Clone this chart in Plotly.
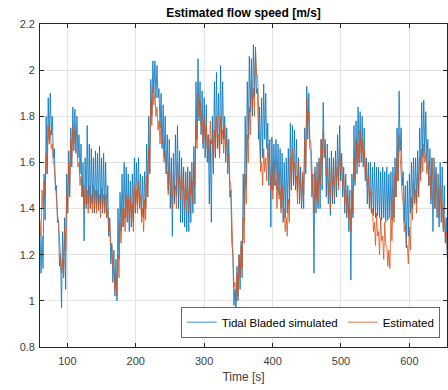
import plotly.graph_objects as go

# Values, one pair per 3 s slot starting at t = 60 s.
# Tidal Bladed simulated flow speed [m/s]: upper and lower edge of the noisy trace
sim_upper = [
    1.30, 1.28, 1.55, 1.80, 1.88, 1.90, 1.80, 1.66, 1.50, 1.35,
    1.20, 1.30, 1.36, 1.55, 1.65, 1.75, 1.84, 1.83, 1.80, 1.72,
    1.68, 1.60, 1.62, 1.76, 1.68, 1.66, 1.62, 1.65, 1.64, 1.67,
    1.62, 1.64, 1.60, 1.50, 1.36, 1.25, 1.22, 1.18, 1.40, 1.47,
    1.55, 1.60, 1.58, 1.55, 1.52, 1.55, 1.62, 1.60, 1.62, 1.55,
    1.54, 1.56, 1.68, 1.80, 1.96, 2.04, 2.04, 2.02, 1.92, 1.90,
    1.85, 1.80, 1.72, 1.70, 1.62, 1.64, 1.72, 1.76, 1.65, 1.62,
    1.58, 1.56, 1.58, 1.56, 1.60, 1.67, 1.95, 2.05, 1.95, 1.91,
    1.88, 1.85, 1.72, 1.70, 1.80, 1.95, 1.99, 1.90, 2.02, 1.95,
    1.80, 1.75, 1.70, 1.48, 1.20, 1.05, 1.15, 1.20, 1.26, 1.55,
    1.80, 1.95, 2.06, 2.05, 2.11, 2.10, 1.92, 1.84, 1.88, 1.94,
    1.90, 1.77, 1.70, 1.71, 1.68, 1.70, 1.68, 1.66, 1.64, 1.60,
    1.62, 1.66, 1.77, 1.76, 1.74, 1.70, 1.62, 1.58, 1.55, 1.75,
    1.93, 1.90, 1.65, 1.55, 1.58, 1.60, 1.62, 1.70, 1.86, 1.70,
    1.68, 1.62, 1.65, 1.62, 1.65, 1.72, 1.76, 1.64, 1.58, 1.55,
    1.50, 1.48, 1.55, 1.76, 1.78, 1.84, 1.82, 1.80, 1.75, 1.62,
    1.60, 1.60, 1.58, 1.60, 1.58, 1.58, 1.56, 1.58, 1.56, 1.58,
    1.55, 1.56, 1.58, 1.62, 1.75, 1.91, 1.75, 1.56, 1.50, 1.52,
    1.55, 1.60, 1.62, 1.62, 1.65, 1.75, 1.86, 1.87, 1.82, 1.70,
    1.66, 1.62, 1.62, 1.58, 1.55, 1.60, 1.58, 1.50, 1.36,
]
sim_lower = [
    1.12, 1.14, 1.35, 1.55, 1.70, 1.72, 1.62, 1.48, 1.34, 1.15,
    0.97, 1.10, 1.05, 1.38, 1.45, 1.58, 1.65, 1.64, 1.62, 1.55,
    1.45, 1.26, 1.40, 1.42, 1.40, 1.42, 1.38, 1.40, 1.40, 1.40,
    1.38, 1.38, 1.36, 1.28, 1.16, 1.08, 1.02, 1.00, 1.18, 1.30,
    1.32, 1.36, 1.34, 1.30, 1.32, 1.34, 1.38, 1.42, 1.40, 1.37,
    1.36, 1.40, 1.45, 1.55, 1.80, 1.90, 1.88, 1.88, 1.75, 1.66,
    1.62, 1.55, 1.48, 1.40, 1.28, 1.42, 1.45, 1.40, 1.34, 1.34,
    1.32, 1.30, 1.30, 1.34, 1.38, 1.42, 1.70, 1.78, 1.72, 1.66,
    1.62, 1.60, 1.42, 1.34, 1.55, 1.62, 1.66, 1.64, 1.68, 1.70,
    1.60, 1.55, 1.45, 1.25, 0.98, 0.92, 1.00, 1.05, 1.10, 1.35,
    1.50, 1.70, 1.82, 1.80, 1.88, 1.90, 1.70, 1.60, 1.62, 1.70,
    1.66, 1.50, 1.32, 1.48, 1.50, 1.48, 1.46, 1.40, 1.34, 1.36,
    1.38, 1.42, 1.48, 1.50, 1.48, 1.47, 1.42, 1.40, 1.40, 1.55,
    1.70, 1.66, 1.45, 1.12, 1.38, 1.40, 1.40, 1.48, 1.62, 1.45,
    1.42, 1.37, 1.42, 1.42, 1.45, 1.50, 1.52, 1.45, 1.38, 1.36,
    1.30, 1.09, 1.36, 1.50, 1.55, 1.60, 1.60, 1.58, 1.52, 1.42,
    1.40, 1.38, 1.37, 1.36, 1.37, 1.36, 1.35, 1.36, 1.34, 1.35,
    1.36, 1.35, 1.36, 1.45, 1.52, 1.65, 1.50, 1.34, 1.23, 1.28,
    1.38, 1.40, 1.42, 1.42, 1.45, 1.55, 1.62, 1.64, 1.60, 1.50,
    1.42, 1.30, 1.40, 1.36, 1.32, 1.34, 1.30, 1.25, 1.18,
]

# Estimated flow speed [m/s]: upper and lower edge of the trace
est_upper = [
    1.35, 1.48, 1.52, 1.64, 1.76, 1.74, 1.68, 1.58, 1.46, 1.34,
    1.20, 1.18, 1.32, 1.46, 1.60, 1.70, 1.76, 1.74, 1.66, 1.60,
    1.54, 1.50, 1.50, 1.48, 1.50, 1.46, 1.50, 1.48, 1.48, 1.46,
    1.49, 1.46, 1.46, 1.40, 1.34, 1.24, 1.14, 1.10, 1.20, 1.34,
    1.40, 1.40, 1.46, 1.44, 1.46, 1.42, 1.50, 1.48, 1.52, 1.46,
    1.40, 1.44, 1.54, 1.66, 1.86, 1.93, 1.90, 1.84, 1.78, 1.78,
    1.70, 1.65, 1.56, 1.60, 1.50, 1.56, 1.50, 1.60, 1.54, 1.58,
    1.50, 1.55, 1.48, 1.56, 1.52, 1.60, 1.78, 1.90, 1.86, 1.78,
    1.80, 1.76, 1.72, 1.78, 1.70, 1.74, 1.80, 1.72, 1.80, 1.74,
    1.76, 1.70, 1.64, 1.50, 1.20, 1.08, 1.12, 1.20, 1.24, 1.36,
    1.55, 1.72, 1.84, 1.95, 1.92, 2.09, 1.98, 1.70, 1.60, 1.66,
    1.62, 1.68, 1.58, 1.55, 1.60, 1.52, 1.56, 1.48, 1.50, 1.40,
    1.36, 1.44, 1.62, 1.66, 1.60, 1.54, 1.60, 1.52, 1.56, 1.70,
    1.88, 1.82, 1.68, 1.50, 1.56, 1.52, 1.60, 1.70, 1.74, 1.66,
    1.58, 1.52, 1.60, 1.54, 1.62, 1.58, 1.66, 1.60, 1.54, 1.48,
    1.46, 1.40, 1.48, 1.62, 1.70, 1.68, 1.74, 1.70, 1.66, 1.60,
    1.54, 1.48, 1.40, 1.34, 1.38, 1.30, 1.36, 1.28, 1.34, 1.24,
    1.22, 1.36, 1.44, 1.55, 1.62, 1.72, 1.58, 1.42, 1.34, 1.24,
    1.32, 1.45, 1.52, 1.48, 1.55, 1.62, 1.66, 1.68, 1.64, 1.60,
    1.54, 1.62, 1.50, 1.56, 1.46, 1.50, 1.42, 1.36, 1.30,
]
est_lower = [
    1.28, 1.40, 1.46, 1.55, 1.68, 1.66, 1.60, 1.50, 1.38, 1.26,
    1.12, 1.10, 1.22, 1.38, 1.50, 1.62, 1.68, 1.66, 1.58, 1.50,
    1.45, 1.40, 1.42, 1.38, 1.40, 1.38, 1.40, 1.38, 1.39, 1.36,
    1.40, 1.38, 1.36, 1.30, 1.24, 1.14, 1.05, 1.02, 1.10, 1.25,
    1.32, 1.30, 1.36, 1.34, 1.36, 1.30, 1.40, 1.38, 1.42, 1.34,
    1.30, 1.35, 1.45, 1.56, 1.76, 1.85, 1.80, 1.74, 1.68, 1.68,
    1.60, 1.55, 1.46, 1.50, 1.40, 1.46, 1.40, 1.50, 1.44, 1.48,
    1.40, 1.44, 1.38, 1.46, 1.42, 1.50, 1.66, 1.80, 1.76, 1.68,
    1.70, 1.66, 1.60, 1.68, 1.58, 1.64, 1.70, 1.62, 1.70, 1.64,
    1.66, 1.60, 1.52, 1.36, 1.06, 1.00, 1.02, 1.10, 1.14, 1.25,
    1.42, 1.60, 1.72, 1.84, 1.80, 1.98, 1.84, 1.56, 1.50, 1.56,
    1.52, 1.58, 1.48, 1.44, 1.50, 1.40, 1.44, 1.38, 1.40, 1.30,
    1.28, 1.34, 1.50, 1.56, 1.50, 1.42, 1.50, 1.42, 1.46, 1.58,
    1.78, 1.70, 1.56, 1.38, 1.44, 1.42, 1.50, 1.60, 1.64, 1.54,
    1.46, 1.40, 1.50, 1.44, 1.52, 1.48, 1.56, 1.50, 1.42, 1.38,
    1.35, 1.30, 1.38, 1.52, 1.60, 1.58, 1.64, 1.60, 1.55, 1.50,
    1.44, 1.38, 1.30, 1.24, 1.28, 1.20, 1.26, 1.18, 1.24, 1.15,
    1.14, 1.26, 1.34, 1.45, 1.52, 1.62, 1.46, 1.30, 1.24, 1.16,
    1.22, 1.35, 1.42, 1.38, 1.45, 1.52, 1.56, 1.60, 1.55, 1.50,
    1.44, 1.52, 1.40, 1.46, 1.36, 1.40, 1.32, 1.28, 1.22,
]

t_start = 60.0
slot = 3.0


def trace_xy(upper, lower):
    xs, ys = [], []
    for i, (u, l) in enumerate(zip(upper, lower)):
        xs += [t_start + slot * i, t_start + slot * i + slot / 2]
        ys += [u, l]
    return xs, ys


x_sim, y_sim = trace_xy(sim_upper, sim_lower)
x_est, y_est = trace_xy(est_upper, est_lower)

x_ticks = [100, 200, 300, 400, 500, 600]
y_ticks = [0.8, 1.0, 1.2, 1.4, 1.6, 1.8, 2.0, 2.2]
y_labels = ["0.8", "1", "1.2", "1.4", "1.6", "1.8", "2", "2.2"]

FONT = "Liberation Sans, Arial, Helvetica, sans-serif"
AX = "#262626"
GRID = "#e3e3e3"
TXT = "#404040"

fig = go.Figure()
fig.add_trace(go.Scatter(x=x_sim, y=y_sim, mode="lines",
                         name="Tidal Bladed simulated",
                         line=dict(color="#0072BD", width=0.8)))
fig.add_trace(go.Scatter(x=x_est, y=y_est, mode="lines",
                         name="Estimated",
                         line=dict(color="#D95319", width=0.8)))

fig.update_layout(
    width=448, height=390,
    margin=dict(l=40, r=1, t=24, b=43),
    paper_bgcolor="white", plot_bgcolor="white",
    font=dict(family=FONT, size=11, color=TXT),
    title=dict(text="<b>Estimated flow speed [m/s]</b>", x=0.5, xref="paper",
               y=1 - 13 / 390, yref="container", yanchor="middle",
               font=dict(family=FONT, size=12, color="#000000")),
    showlegend=True,
    legend=dict(orientation="h", x=0.983, xanchor="right", y=0.028, yanchor="bottom",
                bgcolor="white", bordercolor=AX, borderwidth=0.7,
                font=dict(family=FONT, size=11.5, color="#000000"),
                itemwidth=30, tracegroupgap=0),
)
fig.update_xaxes(range=[60, 655], tickvals=x_ticks, showgrid=True, gridcolor=GRID,
                 gridwidth=1, zeroline=False, showline=True, linecolor=AX, linewidth=0.7,
                 mirror="ticks", ticks="inside", ticklen=4, tickcolor=AX,
                 ticklabelstandoff=4,
                 title=dict(text="Time [s]", standoff=6,
                            font=dict(family=FONT, size=12, color=TXT)),
                 tickfont=dict(size=11, color=TXT))
fig.update_yaxes(range=[0.8, 2.2], tickvals=y_ticks, ticktext=y_labels, showgrid=True,
                 gridcolor=GRID, gridwidth=1, zeroline=False, showline=True, linecolor=AX,
                 linewidth=0.7, mirror="ticks", ticks="inside", ticklen=4, tickcolor=AX,
                 ticklabelstandoff=2,
                 tickfont=dict(size=11, color=TXT))

fig.write_html("out.html",
               config={"displayModeBar": False},
               post_script="document.body.style.margin='0px';"
                           "document.documentElement.style.overflow='hidden';")
